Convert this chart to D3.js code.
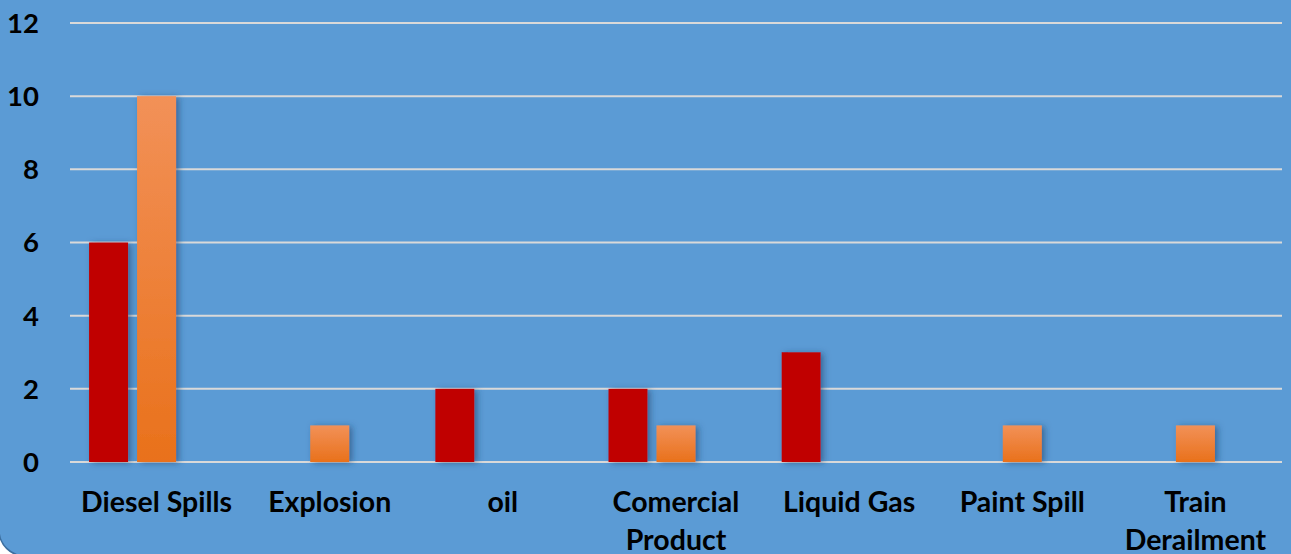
<!DOCTYPE html>
<html><head><meta charset="utf-8">
<script src="https://cdn.jsdelivr.net/npm/d3@7"></script>
<style>html,body{margin:0;padding:0;background:#fff;overflow:hidden}svg{display:block}</style>
</head><body><svg id="c" width="1291" height="554"></svg>
<script>
const categories = [["Diesel Spills"],["Explosion"],["oil"],["Comercial","Product"],["Liquid Gas"],["Paint Spill"],["Train","Derailment"]];
const seriesNames = ["Series1","Series2","Series3"];
const series1 = [6,0,2,2,3,0,0];
const series2 = [10,1,0,1,0,1,1];
const series3 = [0,0,0,0,0,0,0];
const yTicks = [0,2,4,6,8,10,12];

const W=1291,H=554;
const svg=d3.select("#c");
const defs=svg.append("defs");
const g1=defs.append("linearGradient").attr("id","og").attr("x1",0).attr("y1",0).attr("x2",0).attr("y2",1);
g1.append("stop").attr("offset","0%").attr("stop-color","#F29158");
g1.append("stop").attr("offset","100%").attr("stop-color","#E9711B");
const f=defs.append("filter").attr("id","sh").attr("x","-30%").attr("y","-30%").attr("width","170%").attr("height","160%");
f.append("feDropShadow").attr("dx",3).attr("dy",1).attr("stdDeviation",3).attr("flood-color","#1c3d66").attr("flood-opacity",0.55);

svg.append("rect").attr("width",W).attr("height",H).attr("fill","#fff");
svg.append("rect").attr("x",-1).attr("y",-30).attr("width",W+40).attr("height",586).attr("rx",26).attr("ry",26)
  .attr("fill","#5B9BD5").attr("stroke","#3C6FA0").attr("stroke-width",1.5);

const x0=d3.scaleBand().domain(d3.range(categories.length)).range([70,1282]);
const x1=d3.scaleBand().domain(seriesNames).range([-72,72]).paddingInner(0.1875).paddingOuter(0.09375);
const y=d3.scaleLinear().domain([0,12]).range([462,23]);

const grid=svg.append("g");
grid.selectAll("line").data(yTicks).join("line")
  .attr("x1",70).attr("x2",1282).attr("y1",d=>y(d)).attr("y2",d=>y(d))
  .attr("stroke","#D9D9D9").attr("stroke-width",2);

const font="Lato, 'Open Sans', sans-serif";
svg.append("g").selectAll("text").data(yTicks).join("text")
  .attr("x",39).attr("y",d=>y(d)).attr("dy","0.36em").attr("text-anchor","end")
  .attr("font-family",font).attr("font-weight","bold").attr("font-size",27.5).attr("fill","#000").text(d=>d);

const data=[];
categories.forEach((c,i)=>{
  [series1,series2,series3].forEach((s,j)=>{ if(s[i]>0) data.push({i,s:seriesNames[j],v:s[i],j}); });
});
const cx=i=>x0(i)+x0.bandwidth()/2;
svg.append("g").selectAll("rect").data(data).join("rect")
  .attr("x",d=>cx(d.i)+x1(d.s)).attr("width",x1.bandwidth())
  .attr("y",d=>y(d.v)).attr("height",d=>y(0)-y(d.v))
  .attr("fill",d=>d.j===0?"#C00000":"url(#og)").attr("filter","url(#sh)");

const lab=svg.append("g").selectAll("text").data(categories).join("text")
  .attr("text-anchor","middle").attr("font-family",font).attr("font-weight","bold").attr("font-size",28.5).attr("fill","#000");
lab.each(function(c,i){
  const t=d3.select(this);
  c.forEach((line,k)=>t.append("tspan").attr("x",cx(i)).attr("y",512+k*38).text(line));
});
</script></body></html>
